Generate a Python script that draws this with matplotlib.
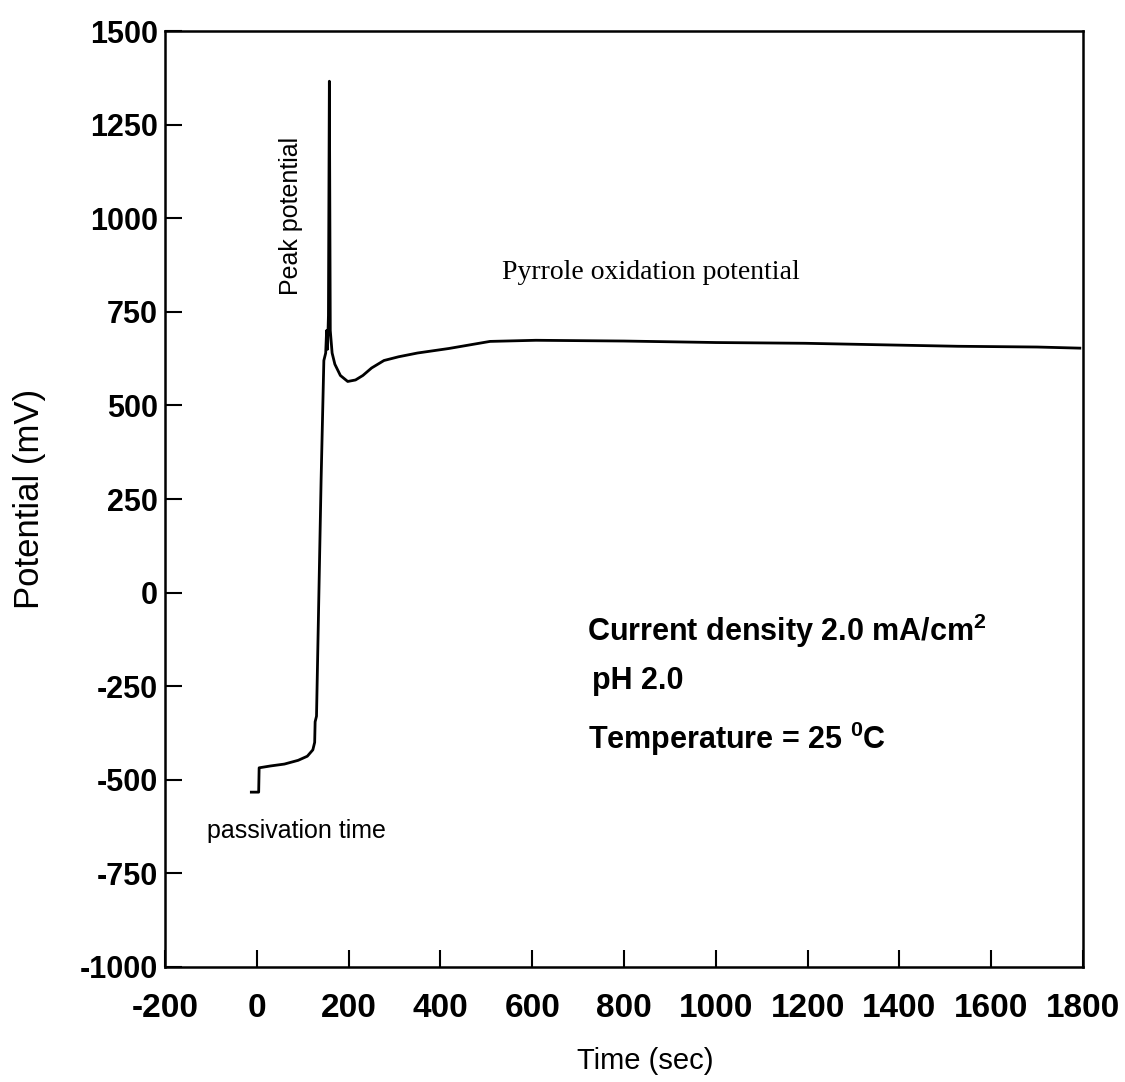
import matplotlib.pyplot as plt

plt.rcParams['font.family'] = ['Liberation Sans', 'DejaVu Sans']
plt.rcParams['mathtext.default'] = 'regular'
plt.rcParams['axes.unicode_minus'] = False

# chronopotentiogram
time_s = [-12, 4, 5, 30, 60, 90, 110, 122, 126, 127, 130, 140, 146, 150, 152, 154, 156,
          158, 160, 164, 170, 182, 198, 215, 231, 250, 277, 309, 350, 418, 508, 608,
          800, 1000, 1194, 1400, 1527, 1700, 1793]
potential_mv = [-533, -533, -468, -463, -458, -448, -437, -420, -400, -345, -330, 300, 620,
                640, 700, 650, 740, 1366, 700, 640, 610, 580, 564, 568, 580, 600, 620, 630,
                640, 652, 671, 674, 672, 668, 666, 661, 658, 656, 653]

x_ticks = [-200, 0, 200, 400, 600, 800, 1000, 1200, 1400, 1600, 1800]
y_ticks = [-1000, -750, -500, -250, 0, 250, 500, 750, 1000, 1250, 1500]

fig = plt.figure(figsize=(11.25, 10.82), dpi=100)
ax = fig.add_axes([0.1467, 0.1063, 0.816, 0.865])

ax.plot(time_s, potential_mv, color='black', lw=2.0)

ax.set_xlim(-200, 1800)
ax.set_ylim(-1000, 1500)
ax.set_xticks(x_ticks)
ax.set_yticks(y_ticks)
ax.tick_params(axis='x', direction='in', length=12, width=1.5, pad=19, labelsize=24)
ax.tick_params(axis='y', direction='in', length=12, width=1.5, pad=5, labelsize=22)
for lab in ax.get_xticklabels() + ax.get_yticklabels():
    lab.set_fontweight('bold')
for sp in ax.spines.values():
    sp.set_linewidth(1.8)

ax.set_xlabel('Time (sec)', fontsize=21)
ax.xaxis.set_label_coords(0.523, -0.085)
ax.set_ylabel('Potential (mV)', fontsize=25)
ax.yaxis.set_label_coords(-0.13, 0.5)

ax.text(75, 1007, 'Peak potential', rotation=90, fontsize=18, ha='center', va='center')
ax.text(534, 855, 'Pyrrole oxidation potential', family='Liberation Serif', fontsize=20,
        ha='left', va='center')
ax.text(-109, -636, 'passivation time', fontsize=18, ha='left', va='center')
ax.text(719, -128, 'Current density 2.0 mA/cm$^{2}$', fontsize=22, fontweight='bold',
        ha='left', va='baseline')
ax.text(730, -257, 'pH 2.0', fontsize=22, fontweight='bold', ha='left', va='baseline')
ax.text(722, -417, 'Temperature = 25 $^{0}$C', fontsize=22, fontweight='bold',
        ha='left', va='baseline')

fig.savefig('out.png')
